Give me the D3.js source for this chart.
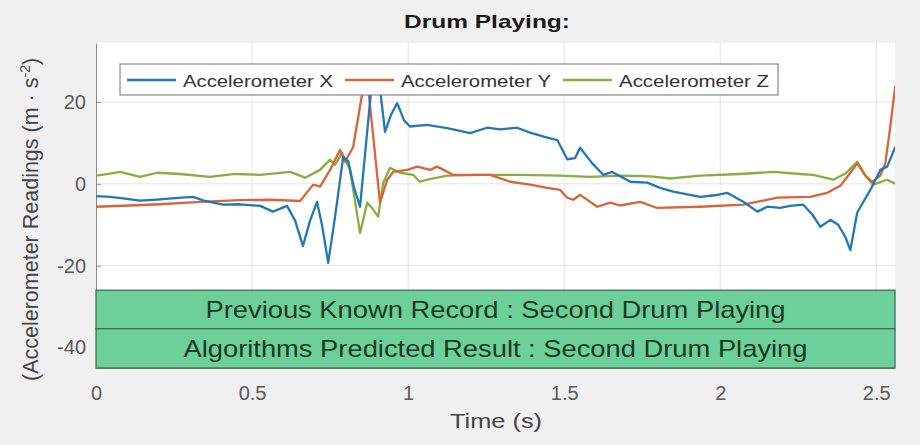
<!DOCTYPE html>
<html>
<head>
<meta charset="utf-8">
<script src="https://cdn.jsdelivr.net/npm/d3@7"></script>
<style>
  html, body { margin: 0; padding: 0; background: #f0f0f0; }
  svg { display: block; font-family: "Liberation Sans", Arial, sans-serif; }
</style>
</head>
<body>
<svg id="chart" width="920" height="445"></svg>
<script>
// Sensor traces: time (s) and acceleration (m/s^2)
const timeX = [0,0.045,0.093,0.141,0.205,0.253,0.311,0.349,0.407,0.462,0.526,0.567,0.612,0.638,0.663,0.686,0.708,0.724,0.744,0.766,0.792,0.808,0.827,0.846,0.888,0.912,0.926,0.946,0.965,0.987,1.006,1.061,1.125,1.199,1.253,1.295,1.349,1.391,1.446,1.478,1.510,1.535,1.551,1.590,1.625,1.654,1.712,1.766,1.808,1.849,1.936,1.984,2.022,2.074,2.119,2.151,2.192,2.224,2.266,2.295,2.321,2.353,2.378,2.401,2.417,2.439,2.481,2.513,2.535,2.561];
const accelX = [-3,-3.2,-3.6,-4.1,-3.8,-3.5,-3.2,-4.2,-5.1,-5.0,-5.4,-6.8,-5.4,-9,-15.2,-9,-4.4,-10,-19.3,-8,6.6,5.5,-1,-5.6,28,22,12.7,17,19.7,15.5,14,14.4,13.6,12.4,13.7,13.3,13.7,12.5,11.3,10.7,6,6.3,8.8,5,2.2,2.9,0.5,0.3,-1,-1.9,-3.2,-2.8,-2.2,-4.4,-6.8,-5.6,-5.9,-5.4,-5.1,-7.5,-10.5,-8.8,-10,-13,-16.2,-7,-1.5,3.4,4.2,9];

const timeY = [0,0.109,0.205,0.333,0.462,0.558,0.654,0.696,0.718,0.750,0.782,0.798,0.824,0.866,0.910,0.933,0.952,0.997,1.029,1.071,1.093,1.144,1.263,1.327,1.391,1.446,1.487,1.510,1.529,1.551,1.606,1.647,1.679,1.744,1.798,1.936,2.074,2.183,2.288,2.343,2.385,2.417,2.439,2.465,2.487,2.513,2.529,2.545,2.561];
const accelY = [-5.6,-5.3,-5.0,-4.4,-4.0,-3.9,-4.2,-0.2,-0.7,3.4,8.3,5.4,9,28,-4.6,1,2.9,3.4,4.2,3.4,4.2,2.2,2.2,0.5,-0.2,-1,-1.5,-3.4,-3.9,-2.7,-5.6,-4.6,-5.3,-4.4,-5.9,-5.6,-5.1,-3.4,-3.2,-2.2,-0.5,2.7,5.0,2,0.5,2,5,14,24];

const timeZ = [0,0.045,0.077,0.141,0.196,0.269,0.365,0.446,0.526,0.622,0.670,0.718,0.750,0.766,0.788,0.814,0.846,0.869,0.885,0.904,0.920,0.942,0.974,1.016,1.038,1.061,1.125,1.231,1.359,1.487,1.583,1.679,1.776,1.840,1.936,2.064,2.170,2.256,2.298,2.362,2.401,2.439,2.465,2.490,2.535,2.561];
const accelZ = [2.0,2.5,2.9,1.7,2.7,2.4,1.7,2.4,2.2,2.9,1.5,3.4,5.9,4.6,7.6,3.4,-12,-4.6,-6,-8,0.2,3.9,2.7,2.2,0.5,1.0,2.0,2.2,2.2,2.0,1.7,2.0,1.8,1.3,2.0,2.4,2.9,2.4,2.2,1.0,2.5,5.4,2,-0.2,1.0,0];

const seriesNames = ["Accelerometer X", "Accelerometer Y", "Accelerometer Z"];
const xTicks = [0, 0.5, 1, 1.5, 2, 2.5];
const yTicks = [-40, -20, 0, 20];
const bandLabels = ["Previous Known Record : Second Drum Playing",
                    "Algorithms Predicted Result : Second Drum Playing"];
const bandLimits = [-26, -35.4, -45];

const colors = ["#2277b5", "#d9643a", "#84b040"];

const svg = d3.select("#chart");
const plotLeft = 96, plotRight = 895, plotTop = 43, plotBottom = 368;
const fontFamily = "Liberation Sans, Arial, sans-serif";

const x = d3.scaleLinear().domain([0, 2.56]).range([plotLeft, plotRight]);
const y = d3.scaleLinear().domain([-45, 34.4]).range([plotBottom, plotTop]);

// plot background
svg.append("rect").attr("x", plotLeft).attr("y", plotTop)
  .attr("width", plotRight - plotLeft).attr("height", plotBottom - plotTop).attr("fill", "#ffffff");

// grid
svg.append("g").selectAll("line").data(xTicks.filter(d => d > 0)).join("line")
  .attr("x1", d => x(d)).attr("x2", d => x(d)).attr("y1", plotTop).attr("y2", plotBottom)
  .attr("stroke", "#e4e4e4").attr("stroke-width", 1);
svg.append("g").selectAll("line").data(yTicks).join("line")
  .attr("x1", plotLeft).attr("x2", plotRight).attr("y1", d => y(d)).attr("y2", d => y(d))
  .attr("stroke", "#e4e4e4").attr("stroke-width", 1);

// axes (plain hyphen for negative numbers)
const plainFormat = d => String(d);
const yAxis = d3.axisLeft(y).tickValues(yTicks).tickFormat(plainFormat)
  .tickSizeInner(-5).tickSizeOuter(0).tickPadding(10);
const gy = svg.append("g").attr("transform", `translate(${plotLeft},0)`).call(yAxis);
gy.select(".domain").attr("stroke", "#8a8a8a");
gy.selectAll(".tick line").attr("stroke", "#8a8a8a");
gy.selectAll(".tick text").attr("font-size", 20).attr("fill", "#5a5a5a")
  .attr("font-family", fontFamily);

const xAxis = d3.axisBottom(x).tickValues(xTicks).tickFormat(plainFormat)
  .tickSizeInner(-5).tickSizeOuter(0).tickPadding(18);
const gx = svg.append("g").attr("transform", `translate(0,${plotBottom})`).call(xAxis);
gx.select(".domain").attr("stroke", "#8a8a8a");
gx.selectAll(".tick line").attr("stroke", "#8a8a8a");
gx.selectAll(".tick text").attr("font-size", 20).attr("fill", "#5a5a5a")
  .attr("font-family", fontFamily);

// traces
svg.append("clipPath").attr("id", "plotClip").append("rect")
  .attr("x", plotLeft).attr("y", plotTop).attr("width", plotRight - plotLeft).attr("height", plotBottom - plotTop);

const line = d3.line().x(d => x(d[0])).y(d => y(d[1]));
const traces = [d3.zip(timeX, accelX), d3.zip(timeY, accelY), d3.zip(timeZ, accelZ)];
const gLines = svg.append("g").attr("clip-path", "url(#plotClip)");
[2, 1, 0].forEach(i => {
  gLines.append("path").datum(traces[i]).attr("d", line)
    .attr("fill", "none").attr("stroke", colors[i]).attr("stroke-width", 2.3)
    .attr("stroke-linejoin", "round");
});

// result bands
const bandText = [{ len: 580 }, { len: 624 }];
bandLabels.forEach((label, i) => {
  const y0 = y(bandLimits[i]), y1 = y(bandLimits[i + 1]);
  svg.append("rect").attr("x", plotLeft).attr("y", y0)
    .attr("width", plotRight - plotLeft).attr("height", y1 - y0)
    .attr("fill", "#6dd09a").attr("stroke", "#3f6f50").attr("stroke-width", 1.3);
  svg.append("text").attr("x", (plotLeft + plotRight) / 2).attr("y", (y0 + y1) / 2 + 8.5)
    .attr("text-anchor", "middle").attr("font-size", 24).attr("fill", "#173a24")
    .attr("textLength", bandText[i].len).attr("lengthAdjust", "spacingAndGlyphs")
    .text(label);
});

// legend
const legend = svg.append("g");
legend.append("rect").attr("x", 120).attr("y", 64).attr("width", 658).attr("height", 31)
  .attr("fill", "#ffffff").attr("stroke", "#707070").attr("stroke-width", 1);
const legendX = [127, 345, 563];
seriesNames.forEach((name, i) => {
  legend.append("line").attr("x1", legendX[i]).attr("x2", legendX[i] + 49)
    .attr("y1", 80).attr("y2", 80).attr("stroke", colors[i]).attr("stroke-width", 2.3);
  legend.append("text").attr("x", legendX[i] + 56).attr("y", 86.5)
    .attr("font-size", 17).attr("fill", "#333")
    .attr("textLength", 150).attr("lengthAdjust", "spacingAndGlyphs")
    .text(name);
});

// title
svg.append("text").attr("x", 487).attr("y", 28).attr("text-anchor", "middle")
  .attr("font-size", 19).attr("font-weight", "bold").attr("fill", "#1a1a1a")
  .attr("textLength", 166).attr("lengthAdjust", "spacingAndGlyphs")
  .text("Drum Playing:");

// axis labels
svg.append("text").attr("x", 496).attr("y", 428).attr("text-anchor", "middle")
  .attr("font-size", 20).attr("fill", "#444")
  .attr("textLength", 92).attr("lengthAdjust", "spacingAndGlyphs")
  .text("Time (s)");

const yl = svg.append("text").attr("transform", "translate(38,381) rotate(-90)")
  .attr("text-anchor", "start").attr("font-size", 21.5).attr("fill", "#444");
yl.append("tspan").text("(Accelerometer Readings (m \u00b7 s");
yl.append("tspan").attr("dy", -8).attr("font-size", 14).text("-2");
yl.append("tspan").attr("dy", 8).text(")");
</script>
</body>
</html>
